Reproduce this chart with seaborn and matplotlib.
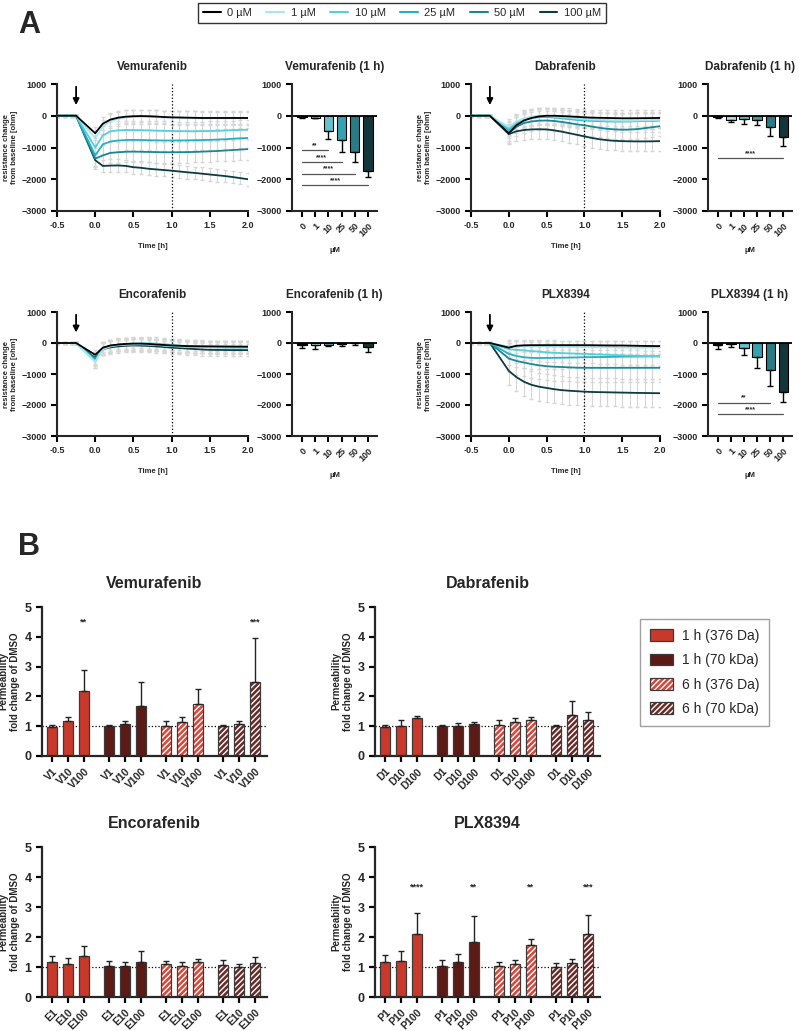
import numpy as np
import pandas as pd
import seaborn as sns
import matplotlib.pyplot as plt
from matplotlib.patches import Patch
from matplotlib.lines import Line2D

sns.set_style("ticks")
plt.rcParams['font.family'] = ['Liberation Sans', 'DejaVu Sans']
plt.rcParams['font.weight'] = 'bold'
plt.rcParams['axes.labelweight'] = 'bold'
plt.rcParams['axes.titleweight'] = 'bold'
plt.rcParams['patch.force_edgecolor'] = False
plt.rcParams['hatch.color'] = 'white'
plt.rcParams['hatch.linewidth'] = 1.0

# ---------- panel A data ----------
conc = ['0', '1', '10', '25', '50', '100']
conc_colors = ['#000000', '#a6e6ee', '#52d0e0', '#22b0c4', '#178896', '#0c3b42']
time_h = [-0.5, -0.4, -0.3, -0.25, 0.0, 0.1, 0.2, 0.3, 0.4, 0.5, 0.6, 0.7, 0.8, 0.9,
          1.0, 1.1, 1.2, 1.3, 1.4, 1.5, 1.6, 1.7, 1.8, 1.9, 2.0]

vem_curves = [
    [0, 0, 0, 0, -550, -250, -120, -60, -30, -15, -10, -15, -25, -40, -50, -55, -60, -65, -70, -70, -70, -70, -70, -70, -70],
    [0, 0, 0, 0, -700, -350, -170, -90, -50, -35, -30, -35, -45, -55, -60, -65, -70, -75, -80, -80, -80, -80, -80, -80, -80],
    [0, 0, 0, 0, -1000, -620, -490, -460, -450, -450, -455, -460, -470, -475, -480, -485, -490, -490, -485, -480, -475, -465, -455, -445, -440],
    [0, 0, 0, 0, -1250, -900, -810, -780, -765, -760, -765, -770, -775, -780, -780, -778, -775, -770, -765, -760, -750, -740, -725, -710, -700],
    [0, 0, 0, 0, -1350, -1250, -1170, -1150, -1135, -1130, -1135, -1140, -1145, -1150, -1150, -1148, -1145, -1140, -1130, -1120, -1110, -1095, -1080, -1065, -1050],
    [0, 0, 0, 0, -1400, -1580, -1570, -1565, -1580, -1620, -1640, -1670, -1690, -1710, -1730, -1755, -1780, -1800, -1825, -1850, -1875, -1900, -1930, -1965, -2000],
]
vem_sd = [200, 220, 300, 320, 330, 200]

dab_curves = [
    [0, 0, 0, 0, -550, -300, -150, -70, -20, 0, 0, -10, -20, -35, -50, -60, -65, -70, -75, -80, -80, -78, -75, -72, -70],
    [0, 0, 0, 0, -350, -180, -80, -30, -5, 0, -20, -40, -60, -80, -100, -115, -125, -135, -145, -150, -150, -145, -140, -135, -130],
    [0, 0, 0, 0, -400, -220, -110, -50, -25, -20, -40, -60, -85, -110, -130, -145, -155, -165, -170, -170, -170, -165, -160, -155, -150],
    [0, 0, 0, 0, -450, -240, -130, -70, -45, -40, -55, -80, -105, -130, -150, -160, -170, -178, -180, -180, -178, -172, -165, -158, -150],
    [0, 0, 0, 0, -550, -350, -230, -180, -155, -150, -165, -195, -230, -270, -300, -340, -380, -410, -430, -440, -435, -420, -390, -360, -330],
    [0, 0, 0, 0, -580, -490, -450, -430, -425, -430, -460, -500, -550, -600, -650, -700, -740, -770, -790, -800, -805, -808, -808, -805, -800],
]
dab_sd = [250, 250, 250, 250, 300, 300]

enc_curves = [
    [0, 0, 0, 0, -380, -150, -80, -50, -30, -20, -20, -30, -50, -65, -80, -90, -100, -105, -108, -110, -112, -115, -117, -118, -120],
    [0, 0, 0, 0, -600, -200, -110, -70, -55, -50, -45, -50, -65, -85, -100, -110, -120, -125, -128, -130, -130, -130, -130, -130, -130],
    [0, 0, 0, 0, -600, -180, -90, -50, -30, -20, -10, -10, -20, -40, -60, -80, -100, -115, -130, -140, -145, -148, -150, -150, -150],
    [0, 0, 0, 0, -550, -170, -90, -55, -40, -30, -30, -40, -60, -80, -100, -110, -118, -122, -126, -130, -130, -130, -130, -130, -130],
    [0, 0, 0, 0, -500, -160, -90, -60, -45, -40, -40, -45, -55, -70, -80, -95, -105, -112, -116, -120, -120, -120, -120, -120, -120],
    [0, 0, 0, 0, -480, -200, -140, -110, -90, -80, -85, -95, -110, -130, -150, -165, -180, -195, -210, -220, -224, -226, -228, -229, -230],
]
enc_sd = [150, 200, 200, 200, 200, 200]

plx_curves = [
    [0, 0, 0, 0, -150, -90, -75, -70, -70, -70, -70, -70, -70, -70, -70, -72, -75, -78, -80, -80, -85, -90, -95, -98, -100],
    [0, 0, 0, 0, -120, -110, -105, -100, -105, -110, -115, -120, -125, -128, -130, -132, -135, -138, -142, -150, -150, -150, -150, -150, -150],
    [0, 0, 0, 0, -200, -220, -240, -260, -280, -300, -315, -325, -335, -343, -350, -360, -370, -380, -390, -400, -408, -415, -420, -425, -430],
    [0, 0, 0, 0, -350, -420, -460, -480, -485, -480, -478, -475, -470, -465, -460, -456, -452, -450, -445, -440, -438, -436, -434, -432, -430],
    [0, 0, 0, 0, -500, -580, -630, -680, -720, -750, -765, -775, -785, -795, -800, -800, -800, -800, -800, -800, -800, -800, -800, -800, -800],
    [0, 0, 0, 0, -900, -1100, -1250, -1350, -1410, -1450, -1490, -1520, -1540, -1555, -1570, -1580, -1585, -1590, -1595, -1600, -1605, -1610, -1613, -1617, -1620],
]
plx_sd = [150, 200, 300, 350, 450, 450]

vem_bar = [-40, -60, -470, -770, -1130, -1730]
vem_bar_err = [20, 25, 260, 380, 340, 210]
vem_sig_idx = [2, 3, 4, 5]
vem_sig_txt = ['**', '****', '****', '****']
vem_sig_y = [-1074, -1453, -1821, -2190]

dab_bar = [-40, -130, -90, -140, -340, -660]
dab_bar_err = [20, 70, 160, 150, 300, 290]
dab_sig_idx = [5]
dab_sig_txt = ['****']
dab_sig_y = [-1337]

enc_bar = [-70, -60, -50, -20, -10, -140]
enc_bar_err = [90, 120, 60, 80, 70, 150]
enc_sig_idx, enc_sig_txt, enc_sig_y = [], [], []

plx_bar = [-70, -40, -170, -460, -870, -1580]
plx_bar_err = [120, 80, 210, 340, 530, 330]
plx_sig_idx = [4, 5]
plx_sig_txt = ['**', '****']
plx_sig_y = [-1920, -2290]

# ---------- panel B data ----------
grp_labels = ['1 h (376 Da)', '1 h (70 kDa)', '6 h (376 Da)', '6 h (70 kDa)']
grp_face = ['#c9392b', '#5c1a16', '#d9463a', '#6b2a25']
grp_hatched = [False, False, True, True]
doses = ['1', '10', '100']

vem_perm = [0.98, 1.16, 2.18, 0.99, 1.08, 1.69, 1.00, 1.15, 1.73, 0.99, 1.08, 2.50]
vem_perm_sd = [0.05, 0.16, 0.70, 0.04, 0.09, 0.79, 0.16, 0.16, 0.52, 0.05, 0.08, 1.47]
vem_stars = {2: '**', 11: '***'}
vem_star_y = 4.35

dab_perm = [0.98, 1.02, 1.27, 1.00, 1.01, 1.07, 1.03, 1.13, 1.21, 1.00, 1.38, 1.22]
dab_perm_sd = [0.07, 0.18, 0.06, 0.04, 0.09, 0.08, 0.17, 0.13, 0.09, 0.05, 0.45, 0.25]
dab_stars = {}

enc_perm = [1.17, 1.10, 1.38, 1.04, 1.02, 1.17, 1.10, 1.05, 1.17, 1.08, 1.01, 1.13]
enc_perm_sd = [0.20, 0.21, 0.32, 0.15, 0.15, 0.37, 0.10, 0.13, 0.10, 0.14, 0.08, 0.19]
enc_stars = {}

plx_perm = [1.16, 1.20, 2.09, 1.05, 1.16, 1.84, 1.02, 1.10, 1.73, 1.00, 1.13, 2.09]
plx_perm_sd = [0.23, 0.35, 0.72, 0.19, 0.26, 0.86, 0.14, 0.14, 0.22, 0.13, 0.15, 0.65]
plx_stars = {2: '****', 5: '**', 8: '**', 11: '***'}
plx_star_y = 3.5

W, H = 799, 1031
fig = plt.figure(figsize=(W / 100, H / 100), dpi=100)


def rect(x0, x1, y_top, y_bot):
    return [x0 / W, 1 - y_bot / H, (x1 - x0) / W, (y_bot - y_top) / H]


def style_axes(ax, lw=1.5):
    sns.despine(ax=ax)
    for s in ['left', 'bottom']:
        ax.spines[s].set_linewidth(lw)
    ax.tick_params(width=lw, length=4, color='black')


def draw_lines(ax, curves, sds, title):
    n = len(time_h)
    df = pd.DataFrame({'time': np.tile(time_h, len(conc)),
                       'value': np.concatenate(curves),
                       'conc': np.repeat(conc, n)})
    t = np.array(time_h)
    for vals, sd in zip(curves, sds):
        err = np.where(t >= 0, sd, 25)
        ax.errorbar(t, vals, yerr=err, fmt='none', ecolor='#d6d6d6',
                    elinewidth=0.8, capsize=1.5, zorder=1)
    sns.lineplot(data=df, x='time', y='value', hue='conc',
                 hue_order=conc[::-1], palette=dict(zip(conc, conc_colors)),
                 ax=ax, legend=False, linewidth=1.3, zorder=3)
    ax.axvline(1.0, color='black', ls=':', lw=0.9)
    ax.annotate('', xy=(-0.25, 250), xytext=(-0.25, 1000),
                arrowprops=dict(arrowstyle='-|>', color='black', lw=1.3,
                                mutation_scale=9))
    ax.set_xlim(-0.5, 2.0)
    ax.set_ylim(-3000, 1000)
    ax.set_xticks([-0.5, 0.0, 0.5, 1.0, 1.5, 2.0])
    ax.set_xticklabels(['-0.5', '0.0', '0.5', '1.0', '1.5', '2.0'])
    ax.set_yticks([-3000, -2000, -1000, 0, 1000])
    ax.tick_params(labelsize=6.5)
    ax.set_xlabel('Time [h]', fontsize=5.5, labelpad=9)
    ax.set_ylabel('resistance change\nfrom baseline [ohm]', fontsize=5.5, labelpad=2)
    ax.set_title(title, fontsize=8.5, pad=10)
    style_axes(ax)


def draw_bars(ax, vals, errs, title, sig_idx, sig_txt, sig_y):
    df = pd.DataFrame({'conc': conc, 'value': vals})
    sns.barplot(data=df, x='conc', y='value', hue='conc', order=conc,
                palette=dict(zip(conc, conc_colors)), legend=False,
                width=0.7, edgecolor='black', linewidth=0.8, ax=ax)
    ax.errorbar(range(len(conc)), vals, yerr=[errs, np.zeros(len(conc))],
                fmt='none', ecolor='black', capsize=2.5, elinewidth=1)
    ax.axhline(0, color='black', lw=1.3)
    for i, txt, y in zip(sig_idx, sig_txt, sig_y):
        ax.plot([0, i], [y, y], color='#555555', lw=0.9)
        ax.text(i / 2, y + 30, txt, ha='center', va='bottom', fontsize=5)
    ax.set_ylim(-3000, 1000)
    ax.set_xlim(-0.76, 5.68)
    ax.set_yticks([-3000, -2000, -1000, 0, 1000])
    ax.tick_params(labelsize=6.5)
    ax.tick_params(axis='x', labelrotation=45)
    for lab in ax.get_xticklabels():
        lab.set_ha('right')
        lab.set_rotation_mode('anchor')
    ax.set_xlabel('µM', fontsize=5.5, labelpad=6)
    ax.set_ylabel('')
    ax.set_title(title, fontsize=8.5, pad=10)
    style_axes(ax)


def draw_perm(ax, vals, sds, prefix, title, stars, star_y):
    pos = [g * 3.6 + i for g in range(len(grp_labels)) for i in range(len(doses))]
    labels = [prefix + d for _ in grp_labels for d in doses]
    for g in range(len(grp_labels)):
        p = pos[g * 3:(g + 1) * 3]
        v = vals[g * 3:(g + 1) * 3]
        s = sds[g * 3:(g + 1) * 3]
        if grp_hatched[g]:
            ax.bar(p, v, width=0.65, color=grp_face[g], hatch='//////', zorder=2)
        else:
            ax.bar(p, v, width=0.65, color=grp_face[g], zorder=2)
        ax.bar(p, v, width=0.65, fill=False, edgecolor='#3a3a3a', linewidth=0.9, zorder=3)
        ax.errorbar(p, v, yerr=[np.zeros(3), s], fmt='none', ecolor='#222222',
                    capsize=2.5, elinewidth=1, zorder=4)
    for i, txt in stars.items():
        ax.text(pos[i], star_y, txt, ha='center', va='bottom', fontsize=6.5)
    ax.axhline(1, color='black', ls=':', lw=0.9, zorder=1)
    ax.set_xlim(-0.64, pos[-1] + 0.76)
    ax.set_ylim(0, 5)
    ax.set_yticks([0, 1, 2, 3, 4, 5])
    ax.set_xticks(pos)
    ax.set_xticklabels(labels, rotation=45, ha='right', rotation_mode='anchor', fontsize=7.5)
    ax.tick_params(axis='y', labelsize=9)
    ax.set_ylabel('Permeability\nfold change of DMSO', fontsize=7, labelpad=3)
    ax.set_title(title, fontsize=11.5, pad=14)
    style_axes(ax, lw=1.6)


# ---------- panel A ----------
ax = fig.add_axes(rect(57, 248, 84, 211))
draw_lines(ax, vem_curves, vem_sd, 'Vemurafenib')
ax = fig.add_axes(rect(292, 377, 84, 211))
draw_bars(ax, vem_bar, vem_bar_err, 'Vemurafenib (1 h)', vem_sig_idx, vem_sig_txt, vem_sig_y)
ax = fig.add_axes(rect(471, 660, 84, 211))
draw_lines(ax, dab_curves, dab_sd, 'Dabrafenib')
ax = fig.add_axes(rect(708, 792, 84, 211))
draw_bars(ax, dab_bar, dab_bar_err, 'Dabrafenib (1 h)', dab_sig_idx, dab_sig_txt, dab_sig_y)

ax = fig.add_axes(rect(57, 248, 312, 436))
draw_lines(ax, enc_curves, enc_sd, 'Encorafenib')
ax = fig.add_axes(rect(292, 377, 312, 436))
draw_bars(ax, enc_bar, enc_bar_err, 'Encorafenib (1 h)', enc_sig_idx, enc_sig_txt, enc_sig_y)
ax = fig.add_axes(rect(471, 660, 312, 436))
draw_lines(ax, plx_curves, plx_sd, 'PLX8394')
ax = fig.add_axes(rect(708, 792, 312, 436))
draw_bars(ax, plx_bar, plx_bar_err, 'PLX8394 (1 h)', plx_sig_idx, plx_sig_txt, plx_sig_y)

line_handles = [Line2D([], [], color=c, lw=1.5) for c in conc_colors]
legA = fig.legend(line_handles, [c + ' µM' for c in conc], loc='upper center',
                  bbox_to_anchor=(402 / W, 1 - 3 / H), ncol=6,
                  prop={'size': 8, 'weight': 'normal'},
                  frameon=True, fancybox=False, edgecolor='black',
                  handlelength=1.6, handletextpad=0.6, columnspacing=1.3,
                  borderpad=0.45, borderaxespad=0)
legA.get_frame().set_linewidth(1.0)

# ---------- panel B ----------
ax = fig.add_axes(rect(42, 267, 607, 756))
draw_perm(ax, vem_perm, vem_perm_sd, 'V', 'Vemurafenib', vem_stars, vem_star_y)
ax = fig.add_axes(rect(375, 600, 607, 756))
draw_perm(ax, dab_perm, dab_perm_sd, 'D', 'Dabrafenib', dab_stars, 0)
ax = fig.add_axes(rect(42, 267, 847, 997))
draw_perm(ax, enc_perm, enc_perm_sd, 'E', 'Encorafenib', enc_stars, 0)
ax = fig.add_axes(rect(375, 600, 847, 997))
draw_perm(ax, plx_perm, plx_perm_sd, 'P', 'PLX8394', plx_stars, plx_star_y)

bar_handles = []
for face, hatched in zip(grp_face, grp_hatched):
    fill = Patch(facecolor=face, hatch='//////' if hatched else None)
    edge = Patch(fill=False, edgecolor='#3a3a3a', linewidth=0.9)
    bar_handles.append((fill, edge))
legB = fig.legend(bar_handles, grp_labels, loc='upper left',
                  bbox_to_anchor=(640 / W, 1 - 619 / H),
                  prop={'size': 10, 'weight': 'normal'},
                  frameon=True, fancybox=False, edgecolor='#888888',
                  handlelength=1.7, handleheight=0.9, handletextpad=0.6,
                  labelspacing=0.75, borderpad=0.7, borderaxespad=0)
legB.get_frame().set_linewidth(1.0)

fig.text(18 / W, 1 - 10 / H, 'A', fontsize=22, fontweight='bold', va='top')
fig.text(18 / W, 1 - 532 / H, 'B', fontsize=22, fontweight='bold', va='top')

fig.savefig('out.png', dpi=100)
